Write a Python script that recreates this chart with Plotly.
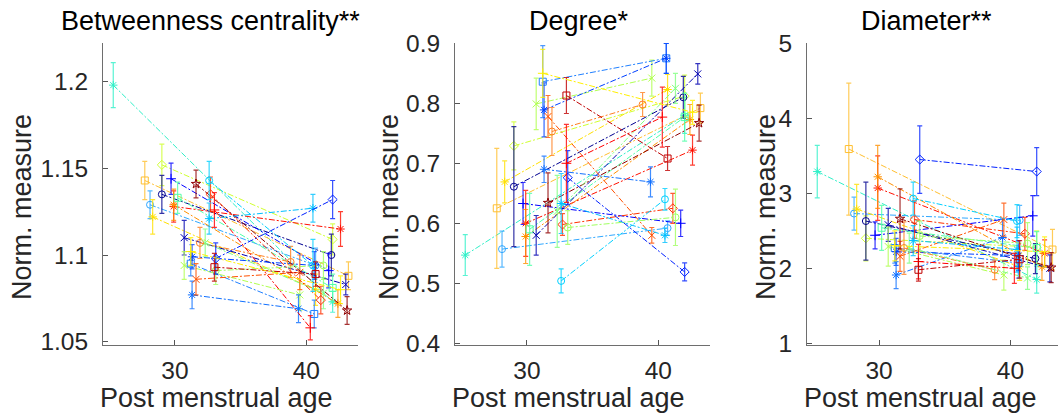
import plotly.graph_objects as go

# ---------------- data (one entry per subject) ----------------
age_scan1 = [25.3, 27.7, 28.1, 28.3, 29.0, 29.0, 29.7, 29.9, 29.9, 30.2, 30.7, 30.7, 31.2, 31.3,
             31.3, 31.6, 31.9, 31.6, 32.3, 32.7, 32.6, 32.6, 33.1, 33.1, 33.0, 33.0, 31.2]
age_scan2 = [42.0, 43.2, 40.7, 40.7, 42.0, 41.9, 41.7, 42.6, 42.4, 42.0, 43.0, 39.5, 40.6, 40.6,
             39.4, 39.5, 38.8, 43.1, 41.3, 41.1, 40.5, 40.5, 41.3, 42.0, 40.3, 40.7, 42.6]

btw_scan1 = [1.198, 1.143, 1.129, 1.122, 1.152, 1.135, 1.144, 1.128, 1.129, 1.133, 1.110, 1.094, 1.095, 1.099,
             1.077, 1.086, 1.107, 1.141, 1.107, 1.135, 1.143, 1.121, 1.091, 1.098, 1.126, 1.093, 1.102]
btw_scan2 = [1.073, 1.088, 1.094, 1.080, 1.109, 1.100, 1.091, 1.115, 1.072, 1.081, 1.083, 1.077, 1.066, 1.094,
             1.069, 1.090, 1.096, 1.068, 1.078, 1.074, 1.094, 1.127, 1.094, 1.132, 1.058, 1.089, 1.080]
btw_err1 = [0.013, 0.011, 0.008, 0.010, 0.012, 0.011, 0.009, 0.009, 0.009, 0.009, 0.010, 0.008, 0.007, 0.007,
            0.008, 0.009, 0.009, 0.008, 0.008, 0.010, 0.011, 0.009, 0.008, 0.009, 0.010, 0.008, 0.008]
btw_err2 = [0.006, 0.008, 0.010, 0.009, 0.009, 0.012, 0.010, 0.010, 0.008, 0.008, 0.006, 0.009, 0.008, 0.008,
            0.008, 0.010, 0.009, 0.008, 0.009, 0.008, 0.015, 0.008, 0.008, 0.011, 0.007, 0.007, 0.008]

deg_scan1 = [0.547, 0.625, 0.557, 0.669, 0.729, 0.661, 0.633, 0.600, 0.578, 0.590, 0.580, 0.799, 0.836, 0.789,
             0.690, 0.778, 0.753, 0.634, 0.620, 0.598, 0.504, 0.633, 0.593, 0.676, 0.700, 0.813, 0.850]
deg_scan2 = [0.780, 0.792, 0.592, 0.823, 0.812, 0.810, 0.600, 0.722, 0.773, 0.777, 0.849, 0.842, 0.875, 0.875,
             0.669, 0.580, 0.798, 0.767, 0.825, 0.625, 0.640, 0.580, 0.610, 0.519, 0.777, 0.708, 0.785]
deg_err1 = [0.034, 0.100, 0.030, 0.035, 0.040, 0.100, 0.035, 0.055, 0.045, 0.060, 0.033, 0.043, 0.060, 0.045,
            0.022, 0.035, 0.040, 0.050, 0.060, 0.018, 0.020, 0.050, 0.028, 0.045, 0.065, 0.030, 0.040]
deg_err2 = [0.030, 0.025, 0.012, 0.025, 0.035, 0.035, 0.022, 0.025, 0.025, 0.040, 0.017, 0.030, 0.025, 0.025,
            0.025, 0.013, 0.020, 0.030, 0.025, 0.025, 0.018, 0.012, 0.047, 0.015, 0.050, 0.020, 0.020]

diam_scan1 = [3.29, 3.59, 2.73, 2.79, 2.40, 2.63, 2.44, 3.07, 3.22, 2.54, 2.58, 2.29, 2.27, 2.22,
              1.91, 2.16, 2.27, 2.66, 2.27, 2.65, 2.93, 2.37, 2.43, 3.45, 2.09, 1.98, 2.30]
diam_scan2 = [1.85, 2.25, 2.64, 2.02, 2.28, 2.13, 2.70, 2.20, 2.02, 2.27, 2.00, 1.91, 2.07, 2.17,
              2.41, 2.65, 1.98, 2.01, 1.87, 2.46, 2.63, 2.25, 2.33, 3.29, 2.00, 2.12, 2.22]
diam_err1 = [0.35, 0.88, 0.22, 0.33, 0.30, 0.52, 0.18, 0.43, 0.42, 0.30, 0.22, 0.26, 0.20, 0.18,
             0.18, 0.20, 0.35, 0.40, 0.20, 0.25, 0.22, 0.20, 0.20, 0.45, 0.23, 0.15, 0.20]
diam_err2 = [0.18, 0.27, 0.20, 0.18, 0.22, 0.20, 0.27, 0.18, 0.18, 0.22, 0.18, 0.20, 0.20, 0.20,
             0.25, 0.22, 0.13, 0.20, 0.15, 0.22, 0.22, 0.30, 0.28, 0.32, 0.20, 0.25, 0.20]

panel_titles = ["Betweenness centrality**", "Degree*", "Diameter**"]
x_label = "Post menstrual age"
y_label = "Norm. measure"
x_ticks = [30, 40]
y_ticks = [[1.05, 1.1, 1.15, 1.2], [0.4, 0.5, 0.6, 0.7, 0.8, 0.9], [1, 2, 3, 4, 5]]
y_ticktext = [["1.05", "1.1", "1.15", "1.2"], ["0.4", "0.5", "0.6", "0.7", "0.8", "0.9"],
              ["1", "2", "3", "4", "5"]]

# ---------------- styles ----------------
colors = ["#30f0c8", "#ffbf30", "#30a8ff", "#ffe000", "#d0ff30", "#000090", "#0000ff", "#ff1000", "#ff9000",
          "#50ffa8", "#0000b0", "#b0ff50", "#2080ff", "#0040ff", "#1070ff", "#ff5000", "#ff8020", "#900000",
          "#80ff80", "#ff3000", "#00d0ff", "#00c0ff", "#a0ff60", "#0020ff", "#ff0000", "#c00000", "#fff000"]
markers = ["asterisk-open", "square-open", "circle-open", "asterisk-open", "diamond-open", "circle-open",
           "cross-thin-open", "asterisk-open", "asterisk-open", "square-open", "x-thin-open", "x-thin-open",
           "square-open", "asterisk-open", "asterisk-open", "x-thin-open", "circle-open", "star-open",
           "x-thin-open", "diamond-open", "circle-open", "asterisk-open", "circle-open", "diamond-open",
           "cross-thin-open", "square-open", "cross-thin-open"]


def rgba(h, a):
    h = h.lstrip("#")
    return "rgba(%d,%d,%d,%.2f)" % (int(h[0:2], 16), int(h[2:4], 16), int(h[4:6], 16), a)


W, H = 1058, 414
top_px, bot_px = 43, 345
dom_px = [(103, 358), (455, 710), (807, 1058)]
x_ranges = [[24.52, 43.93], [24.52, 43.93], [24.52, 43.62]]
y_ranges = [[1.0481, 1.2223], [0.3972, 0.9005], [0.977, 5.004]]
title_cx = [210, 579, 926]
ylab_cx = [22, 389, 766]
xlab_cx = [216, 568, 920]

panels = [(btw_scan1, btw_scan2, btw_err1, btw_err2),
          (deg_scan1, deg_scan2, deg_err1, deg_err2),
          (diam_scan1, diam_scan2, diam_err1, diam_err2)]

fig = go.Figure()
FONT = "Liberation Sans, Arial, sans-serif"
TXT = "#262626"

for p, (v1, v2, e1, e2) in enumerate(panels):
    xa = "x" if p == 0 else "x%d" % (p + 1)
    ya = "y" if p == 0 else "y%d" % (p + 1)
    for i in range(len(age_scan1)):
        c = colors[i]
        fig.add_trace(go.Scatter(
            x=[age_scan1[i], age_scan2[i]], y=[v1[i], v2[i]],
            mode="lines+markers", xaxis=xa, yaxis=ya, showlegend=False, cliponaxis=False,
            line=dict(color=c, width=1, dash="6px,2px,2px,2px"),
            marker=dict(symbol=markers[i], size=7, color=c, line=dict(color=c, width=1)),
            error_y=dict(type="data", array=[e1[i], e2[i]], visible=True, color=rgba(c, 0.8),
                         thickness=1.2, width=2.5),
        ))

layout = dict(width=W, height=H, margin=dict(l=0, r=0, t=0, b=0, autoexpand=False),
              paper_bgcolor="white", plot_bgcolor="white", showlegend=False,
              font=dict(family=FONT, color=TXT))
annotations = []
for p in range(3):
    xk = "xaxis" if p == 0 else "xaxis%d" % (p + 1)
    yk = "yaxis" if p == 0 else "yaxis%d" % (p + 1)
    yanchor = "x" if p == 0 else "x%d" % (p + 1)
    xanchor = "y" if p == 0 else "y%d" % (p + 1)
    layout[xk] = dict(domain=[dom_px[p][0] / W, dom_px[p][1] / W], range=x_ranges[p], anchor=xanchor,
                      tickvals=x_ticks, ticks="inside", ticklen=5, tickwidth=1, tickcolor="#555",
                      showline=True, linecolor="#6e6e6e", linewidth=1, showgrid=False, zeroline=False,
                      tickfont=dict(size=24.5, color=TXT, family=FONT), ticklabelstandoff=4,
                      automargin=False, fixedrange=True)
    layout[yk] = dict(domain=[1 - bot_px / H, 1 - top_px / H], range=y_ranges[p], anchor=yanchor,
                      tickvals=y_ticks[p], ticktext=y_ticktext[p], ticks="inside", ticklen=5, tickwidth=1,
                      tickcolor="#555", showline=True, linecolor="#6e6e6e", linewidth=1, showgrid=False,
                      zeroline=False, tickfont=dict(size=24.5, color=TXT, family=FONT), ticklabelstandoff=9,
                      automargin=False, fixedrange=True)
    annotations.append(dict(text=panel_titles[p], x=title_cx[p] / W, y=1 - 21 / H, xref="paper", yref="paper",
                            xanchor="center", yanchor="middle", showarrow=False,
                            font=dict(size=27, color="#000", family=FONT)))
    annotations.append(dict(text=x_label, x=xlab_cx[p] / W, y=1 - 398 / H, xref="paper", yref="paper",
                            xanchor="center", yanchor="middle", showarrow=False,
                            font=dict(size=27, color=TXT, family=FONT)))
    annotations.append(dict(text=y_label, x=ylab_cx[p] / W, y=1 - 207 / H, xref="paper", yref="paper",
                            xanchor="center", yanchor="middle", showarrow=False, textangle=-90,
                            font=dict(size=27, color=TXT, family=FONT)))
layout["annotations"] = annotations
fig.update_layout(**layout)
fig.write_html("out.html")
